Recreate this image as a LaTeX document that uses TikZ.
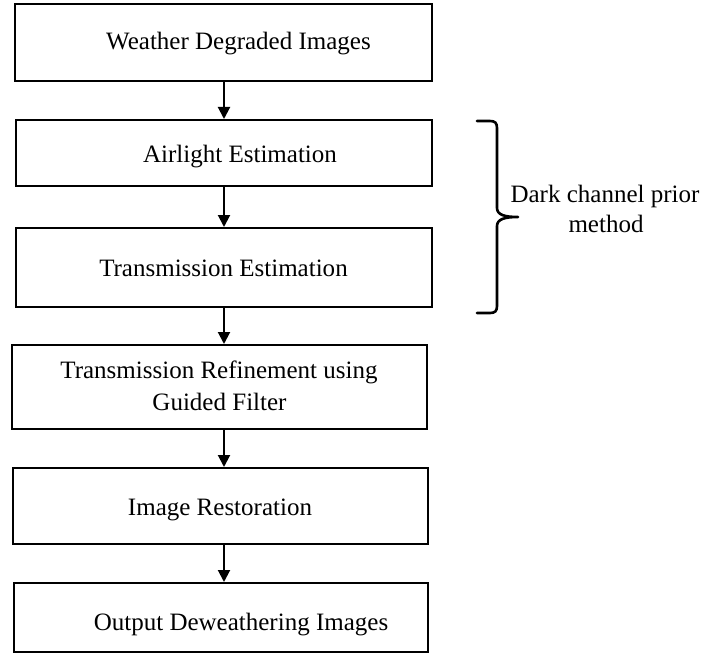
\documentclass[tikz,border=0pt]{standalone}
\usepackage{fontspec}
\setmainfont{Liberation Serif}
\usetikzlibrary{arrows.meta,fit}

\tikzset{
  stagebox/.style={draw=black, line width=1bp, inner sep=0pt, rectangle},
  txt/.style={inner sep=0pt, anchor=base, font=\fontsize{12.55}{15}\selectfont},
  flow/.style={draw=black, line width=1bp, -{Triangle[width=6bp,length=6bp]}},
  bracepath/.style={draw=black, line width=1.3bp, line cap=round, line join=round}
}

\begin{document}
\begin{tikzpicture}[x=0.5bp, y=-0.5bp]
  \useasboundingbox (0,0) rectangle (710,655);

  % process stages
  \node[stagebox, fit={(15,4) (432,81)}]    (b1) {};
  \node[stagebox, fit={(16,120) (432,186)}] (b2) {};
  \node[stagebox, fit={(16,228) (432,307)}] (b3) {};
  \node[stagebox, fit={(12,345) (427,429)}] (b4) {};
  \node[stagebox, fit={(13,468) (428,544)}] (b5) {};
  \node[stagebox, fit={(14,583) (428,652)}] (b6) {};

  % stage labels
  \node[txt] (t1)  at (238.5,50)  {Weather Degraded Images};
  \node[txt] (t2)  at (240,162)   {Airlight Estimation};
  \node[txt] (t3)  at (223.5,276) {Transmission Estimation};
  \node[txt] (t4a) at (219,378)   {Transmission Refinement using};
  \node[txt] (t4b) at (219.5,410) {Guided Filter};
  \node[txt] (t5)  at (220,515)   {Image Restoration};
  \node[txt] (t6)  at (241,630)   {Output Deweathering Images};

  % common x position of the flow arrows
  \coordinate (ax) at (224,0);

  \draw[flow] (b1.south -| ax) -- (b2.north -| ax);
  \draw[flow] (b2.south -| ax) -- (b3.north -| ax);
  \draw[flow] (b3.south -| ax) -- (b4.north -| ax);
  \draw[flow] (b4.south -| ax) -- (b5.north -| ax);
  \draw[flow] (b5.south -| ax) -- (b6.north -| ax);

  % right brace grouping the dark channel prior steps
  \draw[bracepath] (477,121) -- (490,121)
    .. controls (495,121) and (497,123) .. (497,128) -- (497,208)
    .. controls (497,215) and (505,217) .. (518,217)
    .. controls (505,217) and (497,219) .. (497,226) -- (497,306)
    .. controls (497,311) and (495,313) .. (490,313) -- (477,313);

  \node[txt] (m1) at (605,202) {Dark channel prior};
  \node[txt] (m2) at (606,232) {method};
\end{tikzpicture}
\end{document}
